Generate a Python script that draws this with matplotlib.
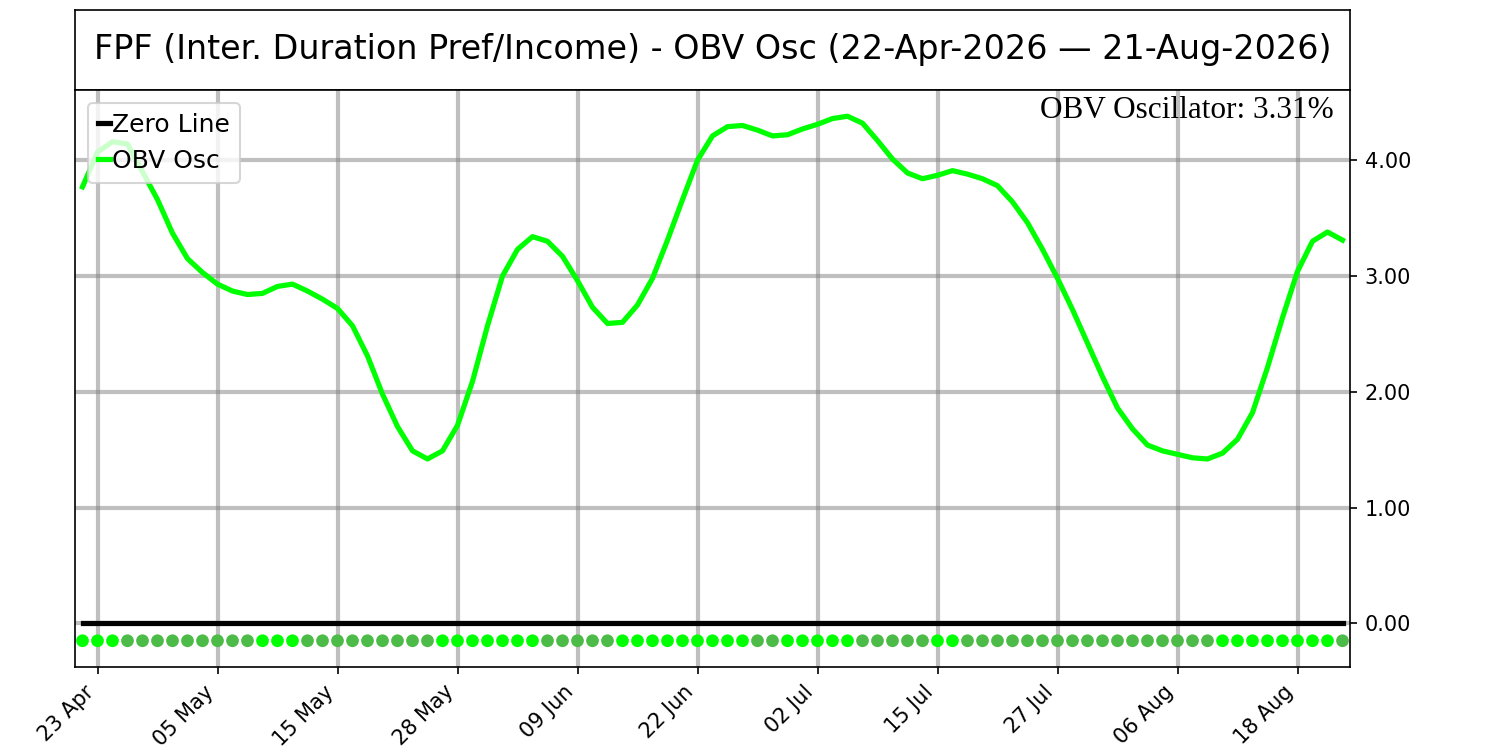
import numpy as np
import matplotlib.pyplot as plt
from matplotlib.ticker import FormatStrFormatter

title = "FPF (Inter. Duration Pref/Income) - OBV Osc (22-Apr-2026 \u2014 21-Aug-2026)"

# OBV oscillator, one value per trading day (22 Apr -> 21 Aug 2026)
obv_osc = [3.77, 4.07, 4.16, 4.14, 3.90, 3.66, 3.37, 3.15, 3.03, 2.93,
           2.87, 2.84, 2.85, 2.91, 2.93, 2.87, 2.80, 2.72, 2.57, 2.31,
           1.98, 1.70, 1.49, 1.42, 1.49, 1.71, 2.09, 2.57, 3.00, 3.23,
           3.34, 3.30, 3.17, 2.96, 2.73, 2.59, 2.60, 2.75, 2.98, 3.31,
           3.66, 4.00, 4.21, 4.29, 4.30, 4.26, 4.21, 4.22, 4.27, 4.31,
           4.36, 4.38, 4.32, 4.17, 4.01, 3.89, 3.84, 3.87, 3.91, 3.88,
           3.84, 3.78, 3.64, 3.46, 3.23, 2.98, 2.71, 2.42, 2.13, 1.86,
           1.68, 1.54, 1.49, 1.46, 1.43, 1.42, 1.47, 1.59, 1.82, 2.21,
           2.64, 3.04, 3.30, 3.38, 3.31]

# tick positions are trading-day indices
tick_pos = [1, 9, 17, 25, 33, 41, 49, 57, 65, 73, 81]
tick_labels = ['23 Apr', '05 May', '15 May', '28 May', '09 Jun', '22 Jun',
               '02 Jul', '15 Jul', '27 Jul', '06 Aug', '18 Aug']

dot_level = -0.15
last_value = obv_osc[-1]

fig = plt.figure(figsize=(10, 5), dpi=150)

# title box
ax_title = fig.add_axes([0.05, 0.88, 0.85, 0.1067])
ax_title.set_xticks([])
ax_title.set_yticks([])
ax_title.text(0.5, 0.5, title, ha='center', va='center', fontsize=16,
              transform=ax_title.transAxes)

ax = fig.add_axes([0.05, 0.1107, 0.85, 0.7693])
x = np.arange(len(obv_osc))
ax.plot(x, np.zeros(len(x)), color='black', lw=2.5, label='Zero Line')
ax.plot(x, obv_osc, color='lime', lw=2.5, label='OBV Osc')

# rising / falling dots along the bottom
diff = np.diff(obv_osc, prepend=obv_osc[0])
colors = np.where(diff >= 0, '#00FF00', '#4CBB47')
ax.scatter(x, np.full(len(x), dot_level), c=colors, s=26, zorder=3)

ax.set_xlim(-0.5, len(x) - 0.5)
ax.set_xticks(tick_pos)
ax.set_xticklabels(tick_labels, rotation=45, ha='right')
ax.yaxis.tick_right()
ax.yaxis.set_major_formatter(FormatStrFormatter('%.2f'))
ax.grid(True, color='gray', alpha=0.5, lw=2)
ax.legend(loc='upper left', fontsize=12, handlelength=0.5, handletextpad=0.1)
ax.text(0.987, 0.99, 'OBV Oscillator: %.2f%%' % last_value, transform=ax.transAxes,
        ha='right', va='top', fontsize=15, family='Liberation Serif')

fig.savefig('out.png')
